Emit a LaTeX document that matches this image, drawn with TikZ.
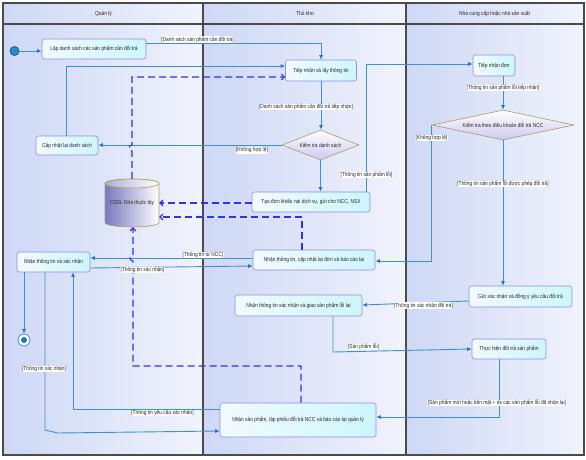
\documentclass[tikz,border=0pt]{standalone}
\usepackage{fontspec}
\setmainfont{Liberation Sans}[FakeStretch=0.85]
\usetikzlibrary{shapes.geometric,arrows.meta,calc}
\definecolor{laneL}{RGB}{206,216,245}
\definecolor{laneR}{RGB}{241,243,252}
\definecolor{frameC}{RGB}{75,75,75}
\definecolor{boxline}{RGB}{140,140,235}
\definecolor{boxL}{RGB}{242,250,255}
\definecolor{boxR}{RGB}{205,246,252}
\definecolor{decline}{RGB}{165,160,90}
\definecolor{decB}{RGB}{205,200,240}
\definecolor{flowc}{RGB}{60,145,210}
\definecolor{arrowc}{RGB}{30,120,195}
\definecolor{depc}{RGB}{50,50,235}
\definecolor{cylL}{RGB}{120,120,190}
\definecolor{textc}{RGB}{40,40,40}
\tikzset{
  txt/.style={font=\fontsize{5.7}{6.5}\selectfont, text=textc},
  actbox/.style={txt, draw=boxline, rounded corners=2.5pt, left color=boxL, right color=boxR, line width=0.6pt, inner sep=1pt},
  decnode/.style={txt, diamond, draw=decline, top color=white, bottom color=decB, line width=0.6pt, inner sep=0pt},
  flowline/.style={draw=flowc, line width=0.9pt, -{Latex[length=4.5pt,width=4pt,color=arrowc]}},
  depline/.style={draw=depc, line width=1.1pt, dash pattern=on 7pt off 4pt, -{Straight Barb[length=3pt,width=6pt]}},
  guard/.style={txt, fill=white, inner sep=0.4pt},
  framel/.style={draw=frameC, line width=1.2pt},
  lanefill/.style={left color=laneL, right color=laneR},
}
\begin{document}
\begin{tikzpicture}[x=1pt,y=-1pt]
\useasboundingbox (0,0) rectangle (586,460);
% lanes
\shade[lanefill] (3,3) rectangle (203,455);
\shade[lanefill] (203,3) rectangle (406,455);
\shade[lanefill] (406,3) rectangle (584,455);
\draw[framel] (3,3) rectangle (584,455);
\draw[framel] (3,24) -- (584,24);
\draw[framel] (203,3) -- (203,455);
\draw[framel] (406,3) -- (406,455);
\node[txt] (h1) at (103.5,13.5) {Quản lý};
\node[txt] (h2) at (305,13.5) {Thủ kho};
\node[txt] (h3) at (494.5,13.5) {Nhà cung cấp hoặc nhà sản xuất};

% cylinder
\path[draw=decline, line width=0.6pt, left color=cylL, right color=white]
  (105,183.5) -- (105,222.5) arc[start angle=180, end angle=0, x radius=27, y radius=4.5]
  -- (159,183.5) arc[start angle=0, end angle=-180, x radius=27, y radius=4.5] -- cycle;
\path[draw=decline, line width=0.6pt, left color=cylL!60, right color=white]
  (132,183.5) ellipse[x radius=27, y radius=4.5];
\node[txt, minimum width=54pt, minimum height=48pt, inner sep=0pt] (csdl) at (132,203) {CSDL Nhà thuốc tây};

% nodes
\node[circle, draw={rgb,255:red,30;green,90;blue,150}, fill={rgb,255:red,45;green,140;blue,200}, line width=0.8pt, minimum size=9pt, inner sep=0pt] (init) at (14.5,51) {};
\node[actbox, minimum width=104pt, minimum height=20pt] (b1) at (94,49) {Lập danh sách các sản phẩm cần đổi trả};
\node[actbox, minimum width=71pt, minimum height=21pt] (b2) at (321,70.5) {Tiếp nhận và lấy thông tin};
\node[decnode, aspect=2.57, minimum width=77pt, minimum height=30pt] (d1) at (320.5,145) {Kiểm tra danh sách};
\node[actbox, minimum width=62pt, minimum height=19pt] (b3) at (67,145.5) {Cập nhật lại danh sách};
\node[actbox, minimum width=118pt, minimum height=20pt] (b4) at (311,202) {Tạo đơn khiếu nại dịch vụ, gửi cho NCC, NSX};
\node[actbox, minimum width=122pt, minimum height=20pt] (b5) at (314,260) {Nhận thông tin, cập nhật lại đơn và báo cáo lại};
\node[actbox, minimum width=73pt, minimum height=20pt] (b6) at (53.5,262) {Nhận thông tin và xác nhận};
\node[circle, draw=flowc, fill=white, line width=0.8pt, minimum size=12pt, inner sep=0pt,
  path picture={\fill[arrowc] (path picture bounding box.center) circle (3pt);}] (stopnode) at (24,340) {};
\node[actbox, minimum width=127pt, minimum height=21pt] (b7) at (298.5,305.5) {Nhận thông tin xác nhận và giao sản phẩm lỗi lại};
\node[actbox, minimum width=156pt, minimum height=34pt] (b8) at (298,420) {Nhận sản phẩm, lập phiếu đổi trả NCC và báo cáo lại quản lý};
\node[actbox, minimum width=42pt, minimum height=21pt] (b9) at (494,65.5) {Tiếp nhận đơn};
\node[decnode, aspect=4.73, minimum width=142pt, minimum height=30pt] (d2) at (503,125) {Kiểm tra theo điều khoản đổi trả NCC};
\node[actbox, minimum width=103pt, minimum height=21pt] (b10) at (520.5,296.5) {Gửi xác nhận và đồng ý yêu cầu đổi trả};
\node[actbox, minimum width=74pt, minimum height=20pt] (b11) at (509,349) {Thực hiện đổi trả sản phẩm};

% solid flows
\draw[flowline] (init.east) -- (b1.west |- init.east);
\draw[flowline] (b1.east |- 0,43.5) -| (b2.north);
\draw[flowline] (b3.north -| 66,0) |- (b2.west |- 0,66);
\draw[flowline] (b2.south) -- (b2.south |- d1.north);
\draw[flowline] (d1.west) -- (b3.east |- d1.west);
\draw[flowline] (d1.south) -- (d1.south |- b4.north);
\draw[flowline] (b4.north -| 366,0) |- (b9.west |- 0,64);
\draw[flowline] (b9.south -| d2.north) -- (d2.north);
\draw[flowline] (d2.west) |- (b5.east |- 0,261);
\draw[flowline] (d2.south) -- (d2.south |- b10.north);
\draw[flowline] (b10.west |- 0,301) -- (b7.east |- 0,305);
\draw[flowline] (b7.south -| 333,0) -- (333,352) -- (b11.west |- 0,349);
\draw[flowline] (b11.south -| 499,0) |- (b8.east |- 0,417);
\draw[flowline] (b5.west |- 0,258) -- (b6.east |- 0,258);
\draw[flowline] (b6.east |- 0,268) -- (b5.west |- 0,266);
\draw[flowline] (b6.south -| 24,0) -- (stopnode.north);
\draw[flowline] (b6.south -| 45,0) -- (45,430) -- (58,433) -- (b8.west |- 0,431);
\draw[flowline] (b8.west |- 0,409) -| (b6.south -| 73,0);

% dashed flows
\draw[depline] (csdl.north) -- (132,151) arc[start angle=90, end angle=270, radius=3] -- (132,77) -- (b2.west |- 0,77);
\draw[depline] (b4.west |- 0,203) -- (csdl.east |- 0,203);
\draw[depline] (b5.north -| 302,0) |- (csdl.east |- 0,217);
\draw[depline] (b8.north -| 301,0) -- (301,366) -- (133,366) -- (133,261) arc[start angle=90, end angle=270, radius=3] -- (csdl.south -| 133,0);

% guards
\node[guard] (g1) at (197.5,39.5) {[Danh sách sản phẩm cần đổi trả]};
\node[guard] (g2) at (306,107) {[Danh sách sản phẩm cần đổi trả tiếp nhận]};
\node[guard] (g3) at (252,150.5) {[Không hợp lệ]};
\node[guard] (g4) at (366.5,175) {[Thông tin sản phẩm lỗi]};
\node[guard] (g5) at (503,88) {[Thông tin sản phẩm lỗi tiếp nhận]};
\node[guard] (g6) at (431.5,138) {[Không hợp lệ]};
\node[guard] (g7) at (503,184) {[Thông tin sản phẩm lỗi được phép đổi trả]};
\node[guard] (g8) at (423.5,305.5) {[Thông tin xác nhận đổi trả]};
\node[guard] (g9) at (363.5,347) {[Sản phẩm lỗi]};
\node[guard] (g10) at (497,403) {[Sản phẩm mới hoặc tiền mặt + ds các sản phẩm lỗi đã nhận lại]};
\node[guard] (g11) at (203,255) {[Thông tin từ NCC]};
\node[guard] (g12) at (142.5,270) {[Thông tin xác nhận]};
\node[guard] (g13) at (44,369) {[Thông tin xác nhận]};
\node[guard] (g14) at (162.5,413) {[Thông tin yêu cầu xác nhận]};
\end{tikzpicture}
\end{document}
